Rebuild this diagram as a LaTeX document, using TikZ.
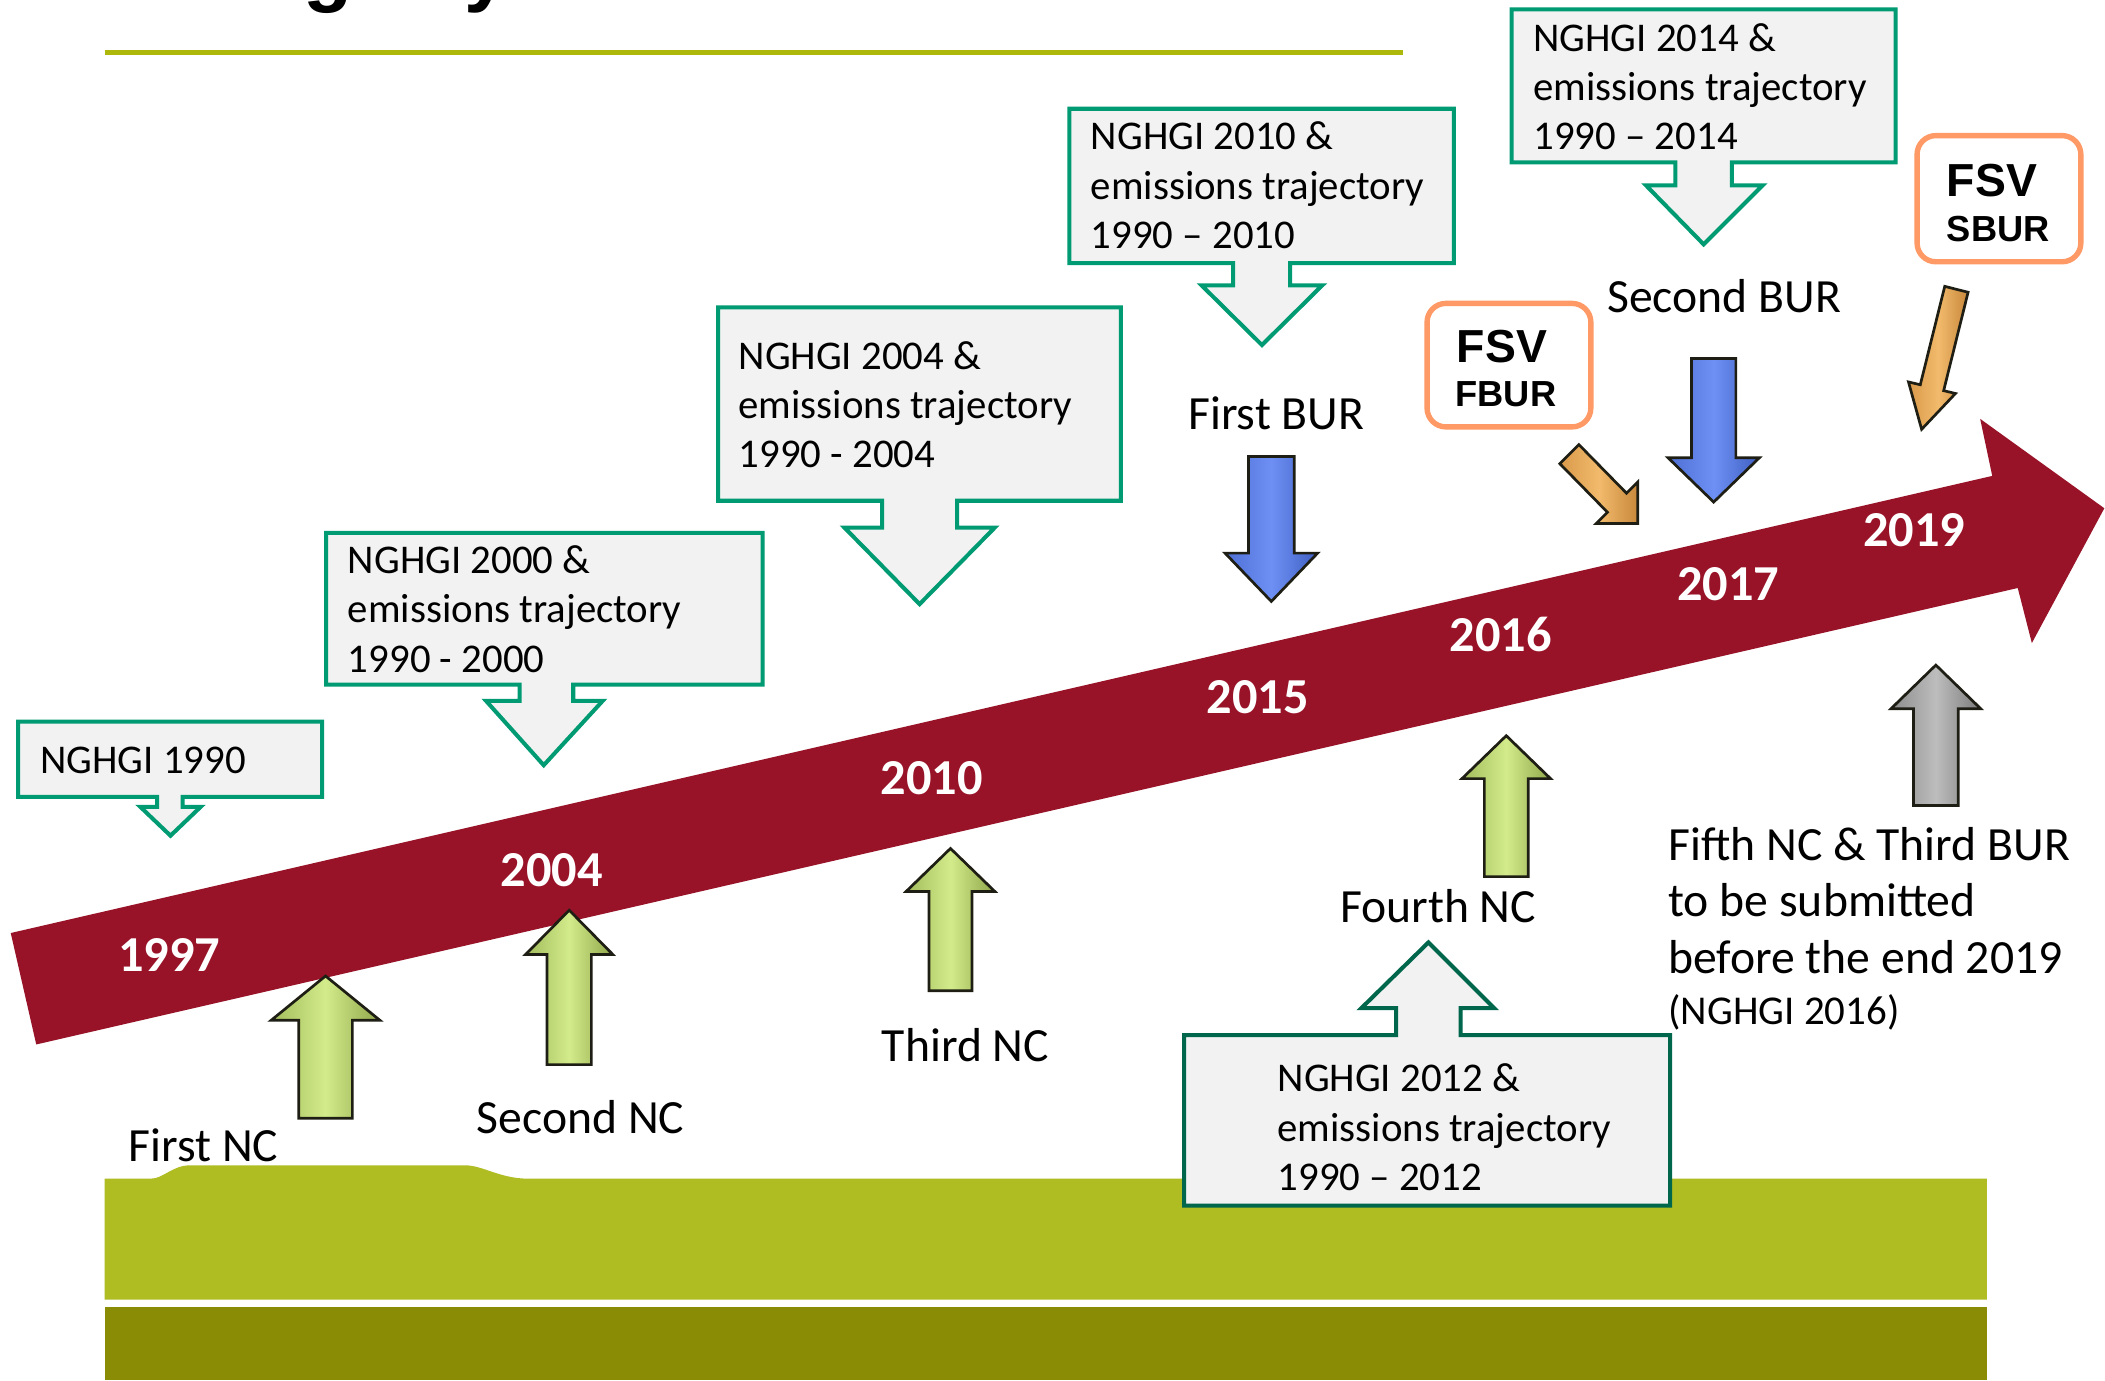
\documentclass[tikz,border=0pt]{standalone}
\usepackage{fontspec}
\setmainfont{Carlito}
\newfontfamily\arialfam{Liberation Sans}
\definecolor{bandred}{HTML}{981328}
\definecolor{cgreen}{HTML}{009B72}
\definecolor{cdark}{HTML}{00664C}
\definecolor{cfill}{HTML}{F2F2F2}
\definecolor{olivelight}{HTML}{AFBC22}
\definecolor{olivedark}{HTML}{8A8C06}
\definecolor{titleline}{HTML}{AEB80A}
\definecolor{fsvorange}{HTML}{FF9966}
\definecolor{arrline}{HTML}{1E1E14}
\definecolor{grL}{HTML}{A3BD5C}
\definecolor{grM}{HTML}{D3EB8A}
\definecolor{grR}{HTML}{8FA64A}
\definecolor{blL}{HTML}{4E70D4}
\definecolor{blM}{HTML}{6E90F4}
\definecolor{blR}{HTML}{3F5FC2}
\definecolor{orL}{HTML}{D99A4A}
\definecolor{orM}{HTML}{F2BA6C}
\definecolor{orR}{HTML}{C8883C}
\definecolor{gyL}{HTML}{8C8C8C}
\definecolor{gyM}{HTML}{BDBDBD}
\definecolor{gyR}{HTML}{7A7A7A}
% #1 style, #2 centre x, #3 tip y, #4 head base y, #5 tail y, #6 half shaft, #7 half head
\newcommand\blockarrow[7]{%
  \draw[#1] (#2,#3) -- ({#2+#7},#4) -- ({#2+#6},#4) -- ({#2+#6},#5)
    -- ({#2-#6},#5) -- ({#2-#6},#4) -- ({#2-#7},#4) -- cycle;}
\begin{document}
\begin{tikzpicture}[x=1pt,y=-1pt,
  cbox/.style={draw=cgreen, line width=3pt, fill=cfill, line join=miter},
  cboxdark/.style={draw=cdark, line width=3pt, fill=cfill, line join=miter},
  boxtext/.style={anchor=base west, inner sep=0pt, font=\fontsize{30.4}{36.8}\selectfont},
  lbl/.style={anchor=base west, inner sep=0pt, font=\fontsize{35.5}{42.3}\selectfont},
  yr/.style={inner sep=0pt, text=white, font=\fontsize{37.5}{40}\selectfont\bfseries},
  fsvbox/.style={draw=fsvorange, line width=4pt, fill=white, rounded corners=14pt},
  fsvbig/.style={anchor=base west, inner sep=0pt, font=\arialfam\bfseries\fontsize{34.5}{40}\selectfont},
  fsvsmall/.style={anchor=base west, inner sep=0pt, font=\arialfam\bfseries\fontsize{27}{32}\selectfont},
  grarrow/.style={draw=arrline, line width=2pt, line join=miter, left color=grL, right color=grR, middle color=grM},
  blarrow/.style={draw=arrline, line width=2pt, line join=miter, left color=blL, right color=blR, middle color=blM},
  orarrow/.style={draw=arrline, line width=2pt, line join=miter, left color=orL, right color=orR, middle color=orM},
  gyarrow/.style={draw=arrline, line width=2pt, line join=miter, left color=gyL, right color=gyR, middle color=gyM}
]
\useasboundingbox (0,0) rectangle (1568,1028);
\fill[white] (0,0) rectangle (1568,1028);
\begin{scope}
\clip (0,0) rectangle (1568,1028);
% title fragments cut off at the top
\node[anchor=base west, inner sep=0pt, font=\arialfam\bfseries\fontsize{60}{64}\selectfont] (tg) at (226,-2.6) {g};
\node[anchor=base west, inner sep=0pt, font=\arialfam\bfseries\fontsize{60}{64}\selectfont] (ty) at (346,-2.6) {y};
\end{scope}
% title rule
\draw[titleline, line width=3.5pt] (78,39) -- (1045,39);

% ground
\fill[olivelight] (78,878) -- (112,878) .. controls (122,878) and (128,868) .. (142,868)
  -- (346,868) .. controls (360,868) and (372,878) .. (394,878) -- (1480,878)
  -- (1480,968) -- (78,968) -- cycle;
\fill[olivedark] (78,973.5) rectangle (1480,1028);

% timeline band
\fill[bandred] (8,695) -- (1484,354.5) -- (1475,312) -- (1567.5,378.6) -- (1513.5,479)
  -- (1503,438) -- (27,778) -- cycle;

% years
\node[yr] (y1997) at (126,711) {1997};
\node[yr] (y2004) at (411,648.5) {2004};
\node[yr] (y2010) at (694,579.5) {2010};
\node[yr] (y2015) at (936.7,519.6) {2015};
\node[yr] (y2016) at (1117.8,472.6) {2016};
\node[yr] (y2017) at (1287.5,435) {2017};
\node[yr] (y2019) at (1426,394.8) {2019};

% callouts
\draw[cbox] (13.5,537.5) -- (240,537.5) -- (240,593.5) -- (136,593.5) -- (136,601) -- (149.5,601)
  -- (127,622.5) -- (104.5,601) -- (117,601) -- (117,593.5) -- (13.5,593.5) -- cycle;
\node[boxtext] (t1990) at (29.8,576) {NGHGI 1990};

\draw[cbox] (243,397) -- (568,397) -- (568,510) -- (427,510) -- (427,522) -- (449,522)
  -- (405,570) -- (362,522) -- (387,522) -- (387,510) -- (243,510) -- cycle;
\node[boxtext] (t2000a) at (259,427) {NGHGI 2000 \&};
\node[boxtext] (t2000b) at (259,464) {emissions trajectory};
\node[boxtext] (t2000c) at (259,501) {1990 - 2000};

\draw[cbox] (535,229) -- (835,229) -- (835,373) -- (713,373) -- (713,393) -- (741,393)
  -- (685,450) -- (629,393) -- (657,393) -- (657,373) -- (535,373) -- cycle;
\node[boxtext] (t2004a) at (550,275) {NGHGI 2004 \&};
\node[boxtext] (t2004b) at (550,312) {emissions trajectory};
\node[boxtext] (t2004c) at (550,348.5) {1990 - 2004};

\draw[cbox] (796.5,81) -- (1083,81) -- (1083,196) -- (961,196) -- (961,212.5) -- (985,212.5)
  -- (940,257) -- (895,212.5) -- (918.5,212.5) -- (918.5,196) -- (796.5,196) -- cycle;
\node[boxtext] (t2010a) at (812.4,111.7) {NGHGI 2010 \&};
\node[boxtext] (t2010b) at (812.4,148.5) {emissions trajectory};
\node[boxtext] (t2010c) at (812.4,185) {1990 – 2010};

\draw[cbox] (1126,7) -- (1412,7) -- (1412,121) -- (1290,121) -- (1290,138) -- (1313,138)
  -- (1269,182) -- (1226,138) -- (1248,138) -- (1248,121) -- (1126,121) -- cycle;
\node[boxtext] (t2014a) at (1142,38) {NGHGI 2014 \&};
\node[boxtext] (t2014b) at (1142,75) {emissions trajectory};
\node[boxtext] (t2014c) at (1142,111.5) {1990 – 2014};

\draw[cboxdark] (882,771) -- (1040,771) -- (1040,751) -- (1014,751) -- (1064,702) -- (1113,751)
  -- (1088,751) -- (1088,771) -- (1244,771) -- (1244,898) -- (882,898) -- cycle;
\node[boxtext] (t2012a) at (951.5,813) {NGHGI 2012 \&};
\node[boxtext] (t2012b) at (951.5,850) {emissions trajectory};
\node[boxtext] (t2012c) at (951.5,887) {1990 – 2012};

% FSV boxes
\draw[fsvbox] (1063,226) rectangle (1185,318);
\node[fsvbig] (fsv1) at (1085,270) {FSV};
\node[fsvsmall] (fbur) at (1084,303) {FBUR};
\draw[fsvbox] (1428,101) rectangle (1550,195);
\node[fsvbig] (fsv2) at (1450,146) {FSV};
\node[fsvsmall] (sbur) at (1450,180) {SBUR};

% orange arrows
\draw[orarrow] (1220,390) -- (1189,390) -- (1197.4,381.6) -- (1161.9,345.4) -- (1176.1,331.2)
  -- (1211.6,367.4) -- (1220,359) -- cycle;
\draw[orarrow] (1431.4,319.8) -- (1456.6,293.1) -- (1447.8,291.0) -- (1466.0,217.7)
  -- (1448.6,213.3) -- (1430.4,286.6) -- (1421.6,284.5) -- cycle;

% blue arrows (BUR)
\blockarrow{blarrow}{947}{448}{412}{340}{17}{34.5}
\blockarrow{blarrow}{1276.5}{374}{341}{267}{16.5}{34}

% green arrows (NC)
\blockarrow{grarrow}{242.5}{727}{760}{833}{20}{40.5}
\blockarrow{grarrow}{424}{678}{711}{793}{16.5}{32.5}
\blockarrow{grarrow}{708}{632}{664}{738}{16}{33}
\blockarrow{grarrow}{1122}{548}{580}{653}{16.3}{33}
% grey arrow
\blockarrow{gyarrow}{1442}{495.4}{528}{600}{16.7}{33.5}

% labels
\node[lbl] (l1nc) at (95.6,865) {First NC};
\node[lbl] (l2nc) at (355,844) {Second NC};
\node[lbl] (l3nc) at (656.7,791) {Third NC};
\node[lbl] (l4nc) at (998,687) {Fourth NC};
\node[lbl] (l1bur) at (885,320) {First BUR};
\node[lbl] (l2bur) at (1197,233) {Second BUR};
\node[lbl] (l5a) at (1242.6,640.6) {Fifth NC \& Third BUR};
\node[lbl] (l5b) at (1242.6,683) {to be submitted};
\node[lbl] (l5c) at (1242.6,725.5) {before the end 2019};
\node[anchor=base west, inner sep=0pt, font=\fontsize{30.5}{36}\selectfont] (l5d) at (1242.6,763) {(NGHGI 2016)};
\end{tikzpicture}
\end{document}
